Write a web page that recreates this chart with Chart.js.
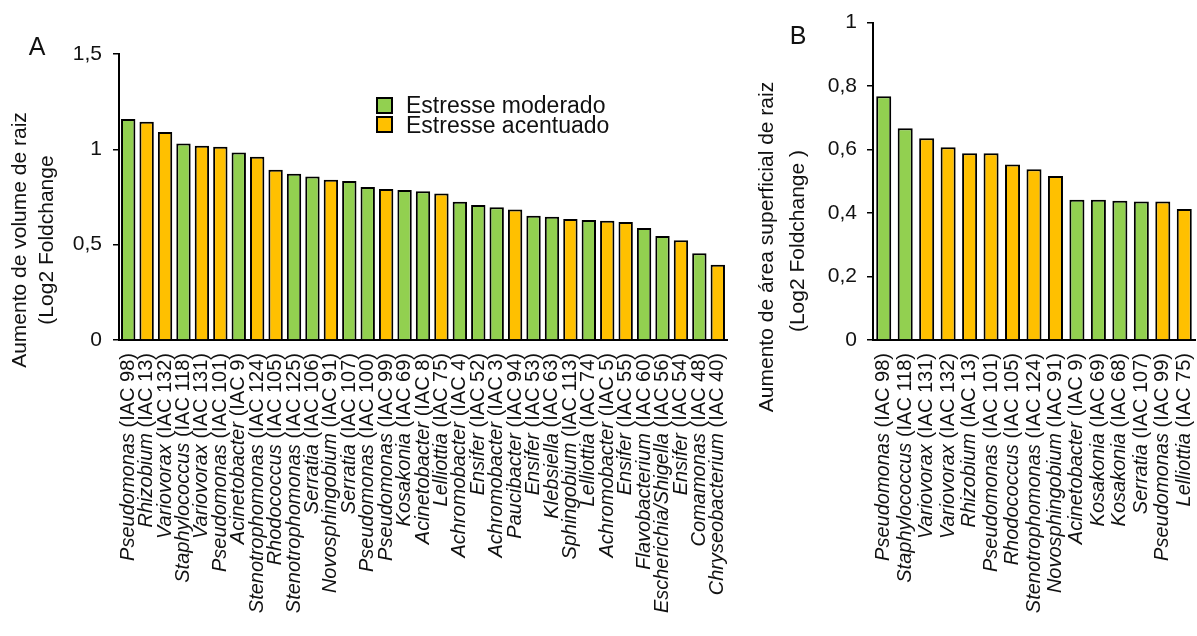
<!DOCTYPE html>
<html>
<head>
<meta charset="utf-8">
<script src="https://cdn.jsdelivr.net/npm/chart.js@4.4.1/dist/chart.umd.min.js"></script>
<style>
  body { margin: 0; background: #fff; width: 1197px; height: 636px; overflow: hidden; position: relative;
         font-family: "Liberation Sans", Arial, sans-serif; color: #111; }
  #wrapA { position: absolute; left: 0; top: 0; width: 745px; height: 636px; }
  #wrapB { position: absolute; left: 745px; top: 0; width: 452px; height: 636px; }
  .box { position: absolute; width: 17px; height: 17px; box-sizing: border-box; border: 2px solid #000; }
  .ltext { position: absolute; font-size: 23px; line-height: 23px; white-space: nowrap; }
</style>
</head>
<body>
<div id="wrapA"><canvas id="chartA" width="745" height="636"></canvas></div>
<div id="wrapB"><canvas id="chartB" width="452" height="636"></canvas></div>

<div class="box" style="left:376px; top:97px; background:#92D050;"></div>
<div class="ltext" style="left:406px; top:94px;">Estresse moderado</div>
<div class="box" style="left:376px; top:116px; background:#FFC000;"></div>
<div class="ltext" style="left:406px; top:114px;">Estresse acentuado</div>

<script>
// Panel A - root volume
const generaA = ['Pseudomonas', 'Rhizobium', 'Variovorax', 'Staphylococcus', 'Variovorax', 'Pseudomonas',
  'Acinetobacter', 'Stenotrophomonas', 'Rhodococcus', 'Stenotrophomonas', 'Serratia', 'Novosphingobium',
  'Serratia', 'Pseudomonas', 'Pseudomonas', 'Kosakonia', 'Acinetobacter', 'Lelliottia', 'Achromobacter',
  'Ensifer', 'Achromobacter', 'Paucibacter', 'Ensifer', 'Klebsiella', 'Sphingobium', 'Lelliottia',
  'Achromobacter', 'Ensifer', 'Flavobacterium', 'Escherichia/Shigella', 'Ensifer', 'Comamonas', 'Chryseobacterium'];
const strainsA = ['IAC 98', 'IAC 13', 'IAC 132', 'IAC 118', 'IAC 131', 'IAC 101', 'IAC 9', 'IAC 124', 'IAC 105',
  'IAC 125', 'IAC 106', 'IAC 91', 'IAC 107', 'IAC 100', 'IAC 99', 'IAC 69', 'IAC 8', 'IAC 75', 'IAC 4', 'IAC 52',
  'IAC 3', 'IAC 94', 'IAC 53', 'IAC 63', 'IAC 113', 'IAC 74', 'IAC 5', 'IAC 55', 'IAC 60', 'IAC 56', 'IAC 54',
  'IAC 48', 'IAC 40'];
const valuesA = [1.159, 1.145, 1.091, 1.031, 1.019, 1.014, 0.984, 0.961, 0.893, 0.872, 0.858, 0.841, 0.834,
  0.802, 0.792, 0.787, 0.780, 0.769, 0.725, 0.708, 0.696, 0.684, 0.652, 0.647, 0.635, 0.629, 0.626, 0.619,
  0.587, 0.545, 0.523, 0.455, 0.395];
// 'm' = moderate stress, 'a' = severe stress
const stressA = ['m', 'a', 'a', 'm', 'a', 'a', 'm', 'a', 'a', 'm', 'm', 'a', 'm', 'm', 'a', 'm', 'm', 'a', 'm',
  'm', 'm', 'a', 'm', 'm', 'a', 'm', 'a', 'a', 'm', 'm', 'a', 'm', 'a'];
const ticksA = [0, 0.5, 1, 1.5];

// Panel B - root surface area
const generaB = ['Pseudomonas', 'Staphylococcus', 'Variovorax', 'Variovorax', 'Rhizobium', 'Pseudomonas',
  'Rhodococcus', 'Stenotrophomonas', 'Novosphingobium', 'Acinetobacter', 'Kosakonia', 'Kosakonia', 'Serratia',
  'Pseudomonas', 'Lelliottia'];
const strainsB = ['IAC 98', 'IAC 118', 'IAC 131', 'IAC 132', 'IAC 13', 'IAC 101', 'IAC 105', 'IAC 124', 'IAC 91',
  'IAC 9', 'IAC 69', 'IAC 68', 'IAC 107', 'IAC 99', 'IAC 75'];
const valuesB = [0.768, 0.667, 0.636, 0.607, 0.588, 0.588, 0.553, 0.538, 0.517, 0.442, 0.442, 0.439, 0.436,
  0.436, 0.413];
const stressB = ['m', 'm', 'a', 'a', 'a', 'a', 'a', 'a', 'a', 'm', 'm', 'm', 'm', 'a', 'a'];
const ticksB = [0, 0.2, 0.4, 0.6, 0.8, 1];

const GREEN = '#92D050';
const ORANGE = '#FFC000';
const FONT = '"Liberation Sans", Arial, sans-serif';

Chart.defaults.font.family = FONT;
Chart.defaults.color = '#111';

function fmt(v) {
  return String(Math.round(v * 10) / 10).replace('.', ',');
}

// draws the rotated category labels (genus in italics) and the axis titles
function textPlugin(genera, strains, titles, letter) {
  return {
    id: 'customText',
    afterDraw(chart) {
      const ctx = chart.ctx;
      const xs = chart.scales.x;
      ctx.save();
      ctx.fillStyle = '#111';
      ctx.textBaseline = 'middle';
      ctx.textAlign = 'left';
      genera.forEach((g, i) => {
        const rest = ' (' + strains[i] + ')';
        ctx.font = 'italic 20px ' + FONT;
        const w1 = ctx.measureText(g).width;
        ctx.font = '20px ' + FONT;
        const w2 = ctx.measureText(rest).width;
        ctx.save();
        ctx.translate(xs.getPixelForValue(i), xs.top + 13);
        ctx.rotate(-Math.PI / 2);
        ctx.font = 'italic 20px ' + FONT;
        ctx.fillText(g, -(w1 + w2), 0);
        ctx.font = '20px ' + FONT;
        ctx.fillText(rest, -w2, 0);
        ctx.restore();
      });
      ctx.font = '21px ' + FONT;
      ctx.textAlign = 'center';
      titles.forEach(t => {
        ctx.save();
        ctx.translate(t.x, t.y);
        ctx.rotate(-Math.PI / 2);
        ctx.fillText(t.text, 0, 0);
        ctx.restore();
      });
      ctx.font = '25px ' + FONT;
      ctx.fillText(letter.text, letter.x, letter.y);
      ctx.restore();
    }
  };
}

function makeChart(id, genera, strains, values, stress, ticks, opts) {
  const labels = genera.map((g, i) => g + ' (' + strains[i] + ')');
  const ctx = document.getElementById(id).getContext('2d');
  return new Chart(ctx, {
    type: 'bar',
    data: {
      labels: labels,
      datasets: [{
        label: 'Estresse moderado',
        data: values.map((v, i) => stress[i] === 'm' ? v : null),
        backgroundColor: GREEN,
        borderColor: '#000',
        borderWidth: 2,
        barPercentage: opts.barPct,
        categoryPercentage: 1
      }, {
        label: 'Estresse acentuado',
        data: values.map((v, i) => stress[i] === 'a' ? v : null),
        backgroundColor: ORANGE,
        borderColor: '#000',
        borderWidth: 2,
        barPercentage: opts.barPct,
        categoryPercentage: 1
      }]
    },
    options: {
      responsive: false,
      animation: false,
      layout: { padding: { top: opts.top, right: opts.right, left: 0, bottom: 0 } },
      plugins: { legend: { display: false }, tooltip: { enabled: false } },
      scales: {
        x: {
          stacked: true,
          ticks: { display: false },
          grid: { display: false },
          border: { color: '#000', width: 2 },
          afterFit: s => { s.height = 296; }
        },
        y: {
          stacked: true,
          min: 0,
          max: ticks[ticks.length - 1],
          afterBuildTicks: s => { s.ticks = ticks.map(v => ({ value: v })); },
          ticks: { font: { size: 21 }, color: '#111', padding: opts.pad, callback: v => fmt(v) },
          grid: { drawOnChartArea: false, tickLength: 6, color: '#000', lineWidth: 1.5 },
          border: { color: '#000', width: 2 },
          afterFit: s => { s.width = opts.left; }
        }
      }
    },
    plugins: [textPlugin(genera, strains, opts.titles, opts.letter)]
  });
}

makeChart('chartA', generaA, strainsA, valuesA, stressA, ticksA, {
  barPct: 0.78, top: 54, right: 18, left: 119, pad: 11,
  titles: [
    { text: 'Aumento de volume de raiz', x: 20, y: 240 },
    { text: '(Log2 Foldchange', x: 47, y: 240 }
  ],
  letter: { text: 'A', x: 37, y: 48 }
});

makeChart('chartB', generaB, strainsB, valuesB, stressB, ticksB, {
  barPct: 0.7, top: 22, right: 2, left: 128, pad: 10,
  titles: [
    { text: 'Aumento de área superficial de raiz', x: 22, y: 247 },
    { text: '(Log2 Foldchange )', x: 53, y: 241 }
  ],
  letter: { text: 'B', x: 53, y: 37 }
});
</script>
</body>
</html>
